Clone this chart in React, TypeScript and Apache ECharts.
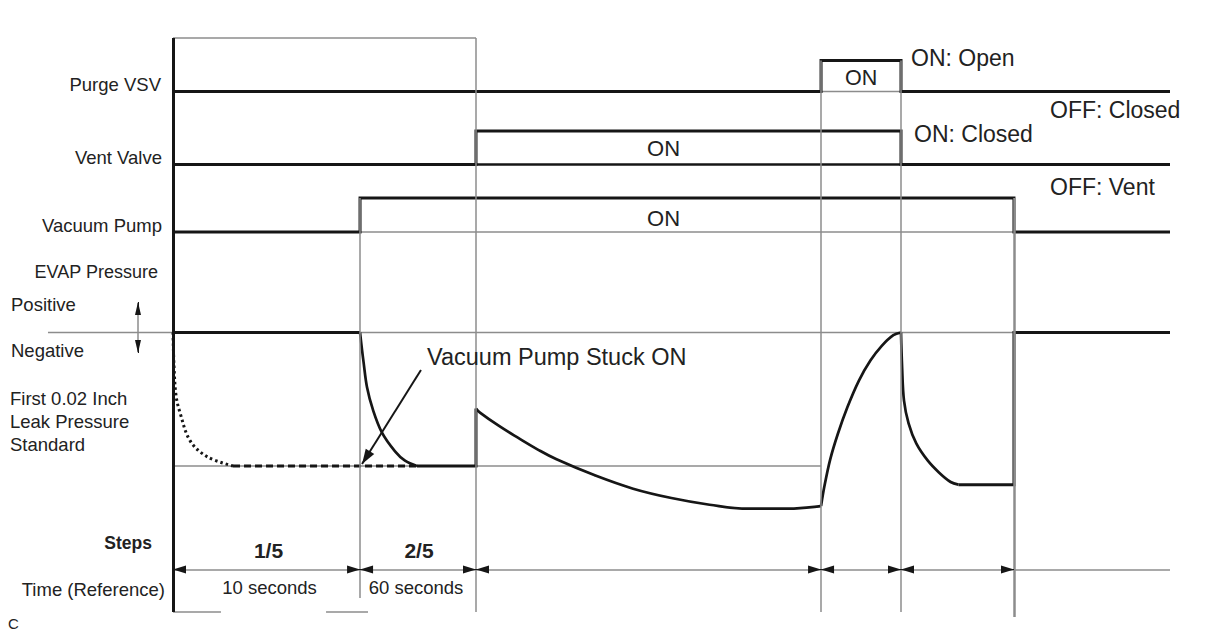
import React, { useEffect, useRef } from "react";
import * as echarts from "echarts";

const W = 1212;
const H = 634;

// ---------- diagram time axis (0 = start of step 1/5, 100 = right end of the traces)
const T_AXIS_LEFT = -12.54;
const T_START = 0;
const T_PUMP_ON = 18.76;
const T_VENT_ON = 30.39;
const T_PURGE_ON = 65.0;
const T_PURGE_OFF = 73.02;
const T_PUMP_OFF = 84.35;
const T_END = 100;
const T_ON_LABEL = 49.2;

// ---------- on/off signals
const purgeTimes = [T_START, T_PURGE_ON, T_PURGE_OFF, T_END];
const purgeStates = [0, 1, 0, 0];
const ventTimes = [T_START, T_VENT_ON, T_PURGE_OFF, T_END];
const ventStates = [0, 1, 0, 0];
const pumpTimes = [T_START, T_PUMP_ON, T_PUMP_OFF, T_END];
const pumpStates = [0, 1, 0, 0];

// ---------- EVAP pressure (0 = atmosphere, -1 = first 0.02 inch leak pressure standard)
const pressureIdle = [[T_START, 0], [T_PUMP_ON, 0]];
const pressurePumpDown = [
  [18.76, 0], [18.96, -0.13], [19.11, -0.22], [19.46, -0.41], [20.06, -0.58],
  [20.96, -0.75], [22.27, -0.89], [23.27, -0.96], [24.47, -1.0],
];
const pressureReference = [[24.47, -1.0], [30.39, -1.0], [30.39, -0.57]];
const pressureLeakCheck = [
  [30.39, -0.57], [30.79, -0.6], [32.7, -0.7], [34.63, -0.79], [36.55, -0.875], [38.47, -0.95],
  [42.31, -1.07], [46.15, -1.17], [49.99, -1.24], [53.82, -1.29], [57.66, -1.32], [61.5, -1.32],
  [63.8, -1.31], [65.0, -1.3],
];
const pressurePurge = [
  [65.0, -1.3], [65.34, -1.15], [65.92, -0.95], [66.68, -0.76], [67.64, -0.56],
  [68.8, -0.36], [69.95, -0.21], [71.09, -0.1], [72.25, -0.02], [73.02, 0],
];
const pressureRepeat = [
  [73.02, 0], [73.13, -0.26], [73.32, -0.51], [73.78, -0.68], [74.55, -0.83],
  [75.71, -0.96], [76.85, -1.05], [78.0, -1.12], [78.78, -1.14],
];
const pressureEnd = [[78.78, -1.14], [84.35, -1.14], [84.35, 0], [T_END, 0]];
const stuckOnCurve = [
  [0, 0], [0.1, -0.25], [0.3, -0.47], [0.7, -0.6], [1.71, -0.81], [3.41, -0.93], [6.02, -1.0],
];
const stuckOnFlat = [[6.02, -1.0], [24.77, -1.0]];
const leakStandard = [[T_START, -1.0], [T_PURGE_ON, -1.0]];
const atmosphere = [[T_AXIS_LEFT, 0], [T_END, 0]];

// ---------- steps / time reference
const timeSegments = [
  [T_START, T_PUMP_ON],
  [T_PUMP_ON, T_VENT_ON],
  [T_VENT_ON, T_PURGE_ON],
  [T_PURGE_ON, T_PURGE_OFF],
  [T_PURGE_OFF, T_PUMP_OFF],
];
const stepLabels = ["1/5", "2/5"];
const stepDurations = ["10 seconds", "60 seconds"];

// ---------- layout (pixels)
const X0_PX = 173;
const X100_PX = 1170;
const UNIT = (X100_PX - X0_PX) / 100;
const ROW_PURGE = { base: 91.5, high: 60.5 };
const ROW_VENT = { base: 164.5, high: 131 };
const ROW_PUMP = { base: 232, high: 198 };
const P_ZERO_Y = 332.5;
const P_UNIT = 133.5;
const FRAME_TOP = 38;
const FRAME_BOTTOM = 612;
const TIME_LINE_Y = 569.5;
const EVAP_ARROW_T = -3.51;

const BLACK = "#161616";
const GRAY = "#8c8c8c";
const TEXT = "#222";
const FONT = '"Liberation Sans", Arial, Helvetica, sans-serif';

const HEAD = "path://M4,0L8,13L0,13Z";
const HEAD_THIN = "path://M3,0L6,13L0,13Z";
const HEAD_BIG = "path://M5,0L10,15L0,15Z";

export default function App() {
  const ref = useRef<HTMLDivElement>(null);

  useEffect(() => {
    if (!ref.current) return;
    const chart = echarts.init(ref.current, null, { renderer: "svg" });

    const yP = (p: number) => P_ZERO_Y - p * P_UNIT;
    const pressure = (arr: number[][]) => arr.map(([t, p]) => [t, yP(p)]);
    const rowY = (row: { base: number; high: number }, s: number) => row.base + (row.high - row.base) * s;
    const stepLine = (times: number[], states: number[], row: { base: number; high: number }) => {
      const pts: number[][] = [[times[0], rowY(row, states[0])]];
      for (let i = 1; i < times.length; i++) {
        pts.push([times[i], rowY(row, states[i - 1])]);
        if (states[i] !== states[i - 1]) pts.push([times[i], rowY(row, states[i])]);
      }
      return pts;
    };
    const onBase = (times: number[], states: number[], row: { base: number; high: number }) => {
      const segs: number[][] = [];
      for (let i = 0; i < times.length - 1; i++) {
        if (states[i] === 1) {
          segs.push([times[i], row.base], [times[i + 1], row.base]);
        }
      }
      return segs;
    };

    const line = (name: string, data: number[][], color: string, width: number, z: number, extra: any = {}) => ({
      type: "line",
      name,
      data,
      symbol: "none",
      silent: true,
      clip: false,
      animation: false,
      z,
      lineStyle: { color, width, cap: "butt", join: "miter", type: "solid", ...(extra.lineStyle || {}) },
      ...Object.fromEntries(Object.entries(extra).filter(([k]) => k !== "lineStyle")),
    });

    const seg = (a: number[], b: number[], width = 1.5, color = GRAY) => [
      { coord: a, lineStyle: { width, color, type: "solid" } },
      { coord: b },
    ];
    const head = (from: number[], to: number[], symbol: string, size: number, width = 1.5) => [
      { coord: from, symbol: "none", lineStyle: { width, color: BLACK, type: "solid" } },
      { coord: to, symbol, symbolSize: size, symbolKeepAspect: true, symbolOffset: [0, size / 2] },
    ];

    // gray guide lines
    const grayGuides: any[] = [
      seg([T_START, FRAME_TOP], [T_VENT_ON, FRAME_TOP]),
      seg([T_PUMP_ON, ROW_PUMP.high], [T_PUMP_ON, 598]),
      seg([T_VENT_ON, FRAME_TOP], [T_VENT_ON, FRAME_BOTTOM]),
      seg([T_PURGE_ON, ROW_PURGE.high], [T_PURGE_ON, FRAME_BOTTOM]),
      seg([T_PURGE_OFF, ROW_PURGE.high], [T_PURGE_OFF, FRAME_BOTTOM]),
      seg([T_PUMP_OFF, ROW_PUMP.high], [T_PUMP_OFF, 617], 2.5),
      seg([T_START, FRAME_BOTTOM], [4.81, FRAME_BOTTOM]),
      seg([15.35, FRAME_BOTTOM], [19.56, FRAME_BOTTOM]),
      seg([T_START, TIME_LINE_Y], [T_END, TIME_LINE_Y]),
      seg([EVAP_ARROW_T, 303], [EVAP_ARROW_T, 352], 1.5),
    ];

    // black arrows and frame
    const blackMarks: any[] = [
      seg([T_START, FRAME_TOP], [T_START, FRAME_BOTTOM], 3, BLACK),
      head([24.87, 370], [18.96, 464], HEAD_BIG, 15, 2),
      head([EVAP_ARROW_T, 313], [EVAP_ARROW_T, 302], HEAD_THIN, 13, 1),
      head([EVAP_ARROW_T, 342], [EVAP_ARROW_T, 353], HEAD_THIN, 13, 1),
    ];
    timeSegments.forEach(([a, b]) => {
      blackMarks.push(head([a + 1, TIME_LINE_Y], [a, TIME_LINE_Y], HEAD, 13, 1));
      blackMarks.push(head([b - 1, TIME_LINE_Y], [b, TIME_LINE_Y], HEAD, 13, 1));
    });

    const markLineBase = {
      silent: true,
      symbol: ["none", "none"],
      label: { show: false },
      emphasis: { disabled: true },
      animation: false,
    };

    const CURVE_W = 2.7;
    const series: any[] = [
      line("Atmosphere", pressure(atmosphere), GRAY, 1.5, 1, {
        markLine: { ...markLineBase, lineStyle: { color: GRAY, width: 1.5, type: "solid" }, data: grayGuides },
      }),
      line("Leak Pressure Standard", pressure(leakStandard), GRAY, 1.5, 1),
      line("Purge VSV base", onBase(purgeTimes, purgeStates, ROW_PURGE), GRAY, 1.5, 1),
      line("Vacuum Pump base", onBase(pumpTimes, pumpStates, ROW_PUMP), GRAY, 1.5, 1),
      line("Vent Valve base", onBase(ventTimes, ventStates, ROW_VENT), BLACK, 2.5, 2),
      line("Purge VSV", stepLine(purgeTimes, purgeStates, ROW_PURGE), BLACK, 3, 3),
      line("Vent Valve", stepLine(ventTimes, ventStates, ROW_VENT), BLACK, 3, 3),
      line("Vacuum Pump", stepLine(pumpTimes, pumpStates, ROW_PUMP), BLACK, 3, 3),
      line("EVAP idle", pressure(pressureIdle), BLACK, 3, 3, {
        markLine: { ...markLineBase, lineStyle: { color: BLACK, width: 1.5, type: "solid" }, data: blackMarks },
      }),
      line("EVAP pump down", pressure(pressurePumpDown), BLACK, CURVE_W, 3, { smooth: 0.35 }),
      line("EVAP reference", pressure(pressureReference), BLACK, 3, 3),
      line("EVAP leak check", pressure(pressureLeakCheck), BLACK, CURVE_W, 3, { smooth: 0.4 }),
      line("EVAP purge", pressure(pressurePurge), BLACK, CURVE_W, 3, { smooth: 0.35 }),
      line("EVAP repeat", pressure(pressureRepeat), BLACK, CURVE_W, 3, { smooth: 0.35 }),
      line("EVAP end", pressure(pressureEnd), BLACK, 3, 3),
      line("Stuck ON curve", pressure(stuckOnCurve), BLACK, 3, 3, { smooth: 0.35, lineStyle: { type: [2.5, 3] } }),
      line("Stuck ON flat", pressure(stuckOnFlat), BLACK, 2.8, 3, { lineStyle: { type: [7, 4] } }),
    ];

    chart.setOption({
      animation: false,
      backgroundColor: "#fff",
      grid: { left: 0, top: 0, width: W, height: H, show: false },
      xAxis: { type: "value", min: -X0_PX / UNIT, max: (W - X0_PX) / UNIT, show: false },
      yAxis: { type: "value", min: 0, max: H, inverse: true, show: false },
      series,
    });

    const px = (t: number) => chart.convertToPixel({ xAxisIndex: 0 }, t) as number;
    const txt = (text: string, x: number, y: number, size: number, align = "left", weight = "normal") => ({
      type: "text",
      x,
      y,
      silent: true,
      z: 10,
      style: {
        text,
        fill: TEXT,
        fontSize: size,
        fontFamily: FONT,
        fontWeight: weight,
        textAlign: align,
        textVerticalAlign: "middle",
        align,
        verticalAlign: "middle",
      },
    });

    const texts: any[] = [
      txt("Purge VSV", 161, 84, 18.5, "right"),
      txt("Vent Valve", 162, 157, 18.5, "right"),
      txt("Vacuum Pump", 162, 225, 18.5, "right"),
      txt("EVAP Pressure", 158, 272, 18, "right"),
      txt("Positive", 11, 304, 18.5),
      txt("Negative", 11, 350, 18.5),
      txt("First 0.02 Inch", 10, 398, 18.5),
      txt("Leak Pressure", 10, 421, 18.5),
      txt("Standard", 10, 444, 18.5),
      txt("Steps", 152, 543, 17.5, "right", "bold"),
      txt("Time (Reference)", 165, 589, 18.5, "right"),
      txt("C", 8, 623, 15),
      txt("ON: Open", 911, 58, 23),
      txt("OFF: Closed", 1050, 110, 23),
      txt("ON: Closed", 914, 134, 23),
      txt("OFF: Vent", 1050, 187, 23),
      txt("Vacuum Pump Stuck ON", 427, 357, 23.5),
      txt("ON", px((T_PURGE_ON + T_PURGE_OFF) / 2), 78, 21.5, "center"),
      txt("ON", px(T_ON_LABEL), 148, 22, "center"),
      txt("ON", px(T_ON_LABEL), 218, 22, "center"),
    ];
    stepLabels.forEach((s, i) => {
      const [a, b] = timeSegments[i];
      texts.push(txt(s, px((a + b) / 2) + (i === 0 ? 2 : 1), 550, 21, "center", "bold"));
      texts.push(txt(stepDurations[i], px((a + b) / 2) + (i === 0 ? 3 : -2), 587, 18.5, "center"));
    });

    chart.setOption({ graphic: { elements: texts } });

    return () => chart.dispose();
  }, []);

  return (
    <div
      ref={ref}
      style={{ position: "fixed", left: 0, top: 0, width: W, height: H, background: "#fff" }}
    />
  );
}
